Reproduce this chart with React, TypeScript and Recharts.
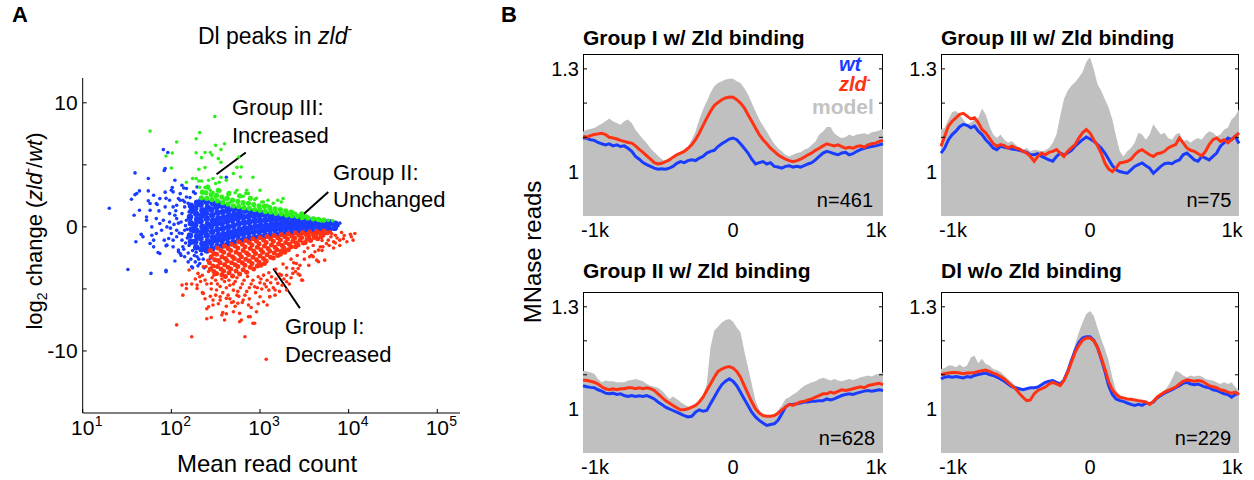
import React from 'react';
import { ScatterChart, Scatter, XAxis, YAxis, ReferenceLine, ComposedChart, Area, Line } from 'recharts';

const FONT = '"Liberation Sans", Arial, Helvetica, sans-serif';
const BLUE = '#1a3cff';
const RED = '#ff3214';
const GREEN = '#2cf01a';
const GRAY = '#c0c0c0';

// ---- Panel A: [log10(mean read count), log2 change] ----
const blueSparse = [
  [1.30, 1.50], [1.51, -3.43], [1.59, 4.35], [1.55, 2.23], [1.59, 2.6], [1.64, 2.9], [1.58, 0.94], [1.60, -1.2],
  [1.68, -0.8], [1.72, 0.8], [1.74, 3.9], [1.77, -3.75], [1.78, -0.67], [1.80, -1.61], [1.76, 1.88], [1.80, 2.55],
  [1.86, 1.29], [1.83, 0.67], [1.91, 6.23], [1.96, 6.0], [1.93, 4.7], [1.94, -3.5], [1.89, -0.27], [1.92, -1.07],
  [1.87, -2.14], [1.95, -1.47], [1.98, 2.15], [2.02, 2.82], [2.04, 0.94], [1.98, 0.4], [2.06, -0.27], [2.12, -1.07],
  [2.10, -2.14], [2.15, -2.41], [2.13, -1.6], [2.19, -2.82], [2.23, -3.22], [2.29, -2.41], [2.32, -2.95], [2.34, -2.2],
  [2.44, -2.54], [2.10, 2.68], [2.13, 2.15], [2.17, 3.09], [2.08, 2.28], [2.15, 1.61], [2.04, 3.76], [2.12, 3.35],
  [1.72, 0.53], [1.78, 0.0], [1.83, -0.53], [1.80, -1.07], [1.95, 0.0], [2.0, -0.53], [2.02, -1.07], [2.06, -0.8],
  [1.97, -0.94], [2.02, -1.61], [2.08, -1.87], [2.12, -0.53], [2.15, -0.27], [1.91, 0.54], [1.87, 0.27], [1.98, 1.07],
  [2.02, 1.61], [2.06, 0.67], [2.12, 1.07], [2.17, 0.54], [2.0, 2.95], [1.94, 2.3], [1.93, 1.61], [1.83, 1.88],
  [1.87, 2.28], [2.25, 2.82], [2.17, 2.41], [2.29, 3.22], [2.04, -2.75], [2.11, -2.3], [2.08, -2.0], [2.24, -3.3],
  [2.27, -2.82], [2.30, -3.14], [2.37, -3.3], [1.66, -0.6], [1.76, -1.34], [1.85, -2.06], [1.94, -1.53], [1.94, -3.62],
  [1.74, 2.1], [1.64, 1.34], [1.76, 1.34], [1.84, 1.8], [1.93, 2.8], [2.01, 3.17], [2.14, 3.14], [2.06, 1.75],
  [2.10, 2.15], [2.15, 2.0], [2.21, 2.36], [2.27, 2.69], [1.74, 2.9], [1.61, 2.69], [2.62, 4.0], [3.47, 0.27],
  [3.58, 0.13], [3.68, 0.27], [3.73, 0.0], [3.79, 0.13], [3.83, 0.2], [3.88, 0.1], [3.90, 0.3], [3.86, -0.1],
  [2.18, -0.9], [2.20, -1.5], [2.16, 0.1], [2.20, 1.2], [2.19, 1.9], [2.24, -1.9], [2.21, 0.6], [2.25, -0.4],
  [2.14, -1.8], [2.08, 0.3], [2.09, -0.5], [2.05, 1.3], [2.03, 0.2], [1.99, -0.1], [2.11, 0.4], [2.18, -0.2],
  [2.26, -2.3], [2.31, -2.6], [2.22, -2.6], [1.92, 4.55], [2.16, -1.3], [2.19, -2.1], [2.28, -2.05], [2.36, -2.6],
];

const blueCore = [
  [2.22, -1.2], [2.21, -0.7], [2.23, -0.2], [2.22, 0.3], [2.21, 0.8], [2.23, 1.3], [2.22, 1.7],
  [2.28, -1.65], [2.27, -1.2], [2.29, -0.75], [2.28, -0.3], [2.27, 0.15], [2.29, 0.6], [2.28, 1.05], [2.27, 1.5], [2.29, 1.95],
  [2.34, -1.8], [2.35, -1.35], [2.33, -0.9], [2.34, -0.45], [2.35, 0.0], [2.33, 0.45], [2.34, 0.9], [2.35, 1.35], [2.33, 1.8], [2.34, 2.15],
  [2.40, -1.9], [2.39, -1.6], [2.41, -1.15], [2.40, -0.7], [2.39, -0.25], [2.41, 0.2], [2.40, 0.65], [2.39, 1.1], [2.41, 1.55], [2.40, 2.0],
  [2.46, -1.75], [2.45, -1.3], [2.47, -0.85], [2.46, -0.4], [2.45, 0.05], [2.47, 0.5], [2.46, 0.95], [2.45, 1.4], [2.47, 1.9],
  [2.52, -1.55], [2.51, -1.1], [2.53, -0.65], [2.52, -0.2], [2.51, 0.25], [2.53, 0.7], [2.52, 1.15], [2.51, 1.6], [2.53, 1.9],
  [2.58, -1.5], [2.57, -1.05], [2.59, -0.6], [2.58, -0.15], [2.57, 0.3], [2.59, 0.75], [2.58, 1.2], [2.57, 1.7],
  [2.64, -1.35], [2.63, -0.9], [2.65, -0.45], [2.64, 0.0], [2.63, 0.45], [2.65, 0.9], [2.64, 1.3], [2.63, 1.62],
  [2.70, -1.25], [2.69, -0.8], [2.71, -0.35], [2.70, 0.1], [2.69, 0.55], [2.71, 1.0], [2.70, 1.45],
  [2.76, -1.1], [2.75, -0.65], [2.77, -0.2], [2.76, 0.25], [2.75, 0.7], [2.77, 1.1], [2.76, 1.42],
  [2.82, -1.0], [2.81, -0.55], [2.83, -0.1], [2.82, 0.35], [2.81, 0.8], [2.83, 1.3],
  [2.88, -0.92], [2.87, -0.48], [2.89, -0.04], [2.88, 0.4], [2.87, 0.84], [2.89, 1.25],
  [2.94, -0.85], [2.93, -0.4], [2.95, 0.05], [2.94, 0.5], [2.93, 0.92], [2.95, 1.18],
  [3.00, -0.78], [2.99, -0.35], [3.01, 0.08], [3.00, 0.5], [2.99, 0.9], [3.01, 1.12],
  [3.06, -0.72], [3.05, -0.3], [3.07, 0.12], [3.06, 0.55], [3.05, 1.0],
  [3.12, -0.66], [3.11, -0.24], [3.13, 0.18], [3.12, 0.6], [3.11, 0.96],
  [3.18, -0.6], [3.17, -0.2], [3.19, 0.2], [3.18, 0.6], [3.17, 0.92],
  [3.24, -0.55], [3.23, -0.15], [3.25, 0.25], [3.24, 0.62], [3.23, 0.86],
  [3.30, -0.5], [3.29, -0.12], [3.31, 0.26], [3.30, 0.6], [3.29, 0.8],
  [3.36, -0.46], [3.35, -0.08], [3.37, 0.3], [3.36, 0.7],
  [3.42, -0.43], [3.41, -0.05], [3.43, 0.32], [3.42, 0.66],
  [3.48, -0.4], [3.47, -0.02], [3.49, 0.34], [3.48, 0.6],
  [3.54, -0.37], [3.53, 0.0], [3.55, 0.35], [3.54, 0.56],
  [3.60, -0.33], [3.59, 0.05], [3.61, 0.42],
  [3.66, -0.3], [3.65, 0.08], [3.67, 0.44],
  [3.72, -0.27], [3.71, 0.1], [3.73, 0.4],
  [3.78, -0.22], [3.77, 0.12], [3.79, 0.35],
  [3.84, -0.08], [3.85, 0.25],
];

const greenSparse = [
  [1.76, 7.72], [2.06, 6.84], [2.01, 5.95], [1.94, 5.71], [2.0, 4.75], [2.28, 7.1], [2.32, 7.6], [2.49, 8.9],
  [2.28, 5.98], [2.38, 6.0], [2.44, 6.0], [2.46, 5.8], [2.5, 6.57], [2.56, 6.23], [2.6, 6.7], [2.34, 5.58],
  [2.53, 5.5], [2.56, 5.2], [2.31, 4.64], [2.38, 4.78], [2.28, 3.9], [2.31, 3.7], [2.34, 3.7], [2.42, 3.76],
  [2.47, 3.9], [2.5, 3.5], [2.54, 3.6], [2.56, 4.0], [2.62, 3.76], [2.32, 3.2], [2.38, 3.17], [2.44, 2.95],
  [2.47, 2.77], [2.5, 2.4], [2.55, 2.9], [2.6, 2.2], [2.64, 2.6], [2.67, 2.0], [2.76, 5.63], [2.79, 4.83],
  [2.78, 4.02], [2.92, 4.0], [2.74, 2.95], [2.85, 2.95], [2.87, 2.69], [2.81, 2.47], [2.94, 2.2], [3.0, 2.95],
  [3.02, 2.0], [3.09, 2.15], [3.2, 2.15], [3.26, 2.28], [3.3, 1.08], [3.37, 0.94], [3.47, 0.67], [3.62, 0.67],
  [2.96, 2.3], [3.04, 2.0], [3.24, 2.0], [3.37, 1.2], [3.46, 0.9], [3.6, 0.7], [3.69, 0.48], [3.77, 0.54],
  [2.17, 3.6], [2.24, 3.9], [2.70, 4.3], [2.74, 4.8], [2.84, 2.7], [2.72, 2.75], [3.12, 1.4], [3.33, 1.1],
  [3.40, 1.1], [3.52, 0.9], [3.82, 0.5], [3.15, 1.9], [3.08, 1.75],
];

const greenCore = [
  [2.34, 2.35], [2.35, 2.8], [2.40, 2.3], [2.39, 2.75], [2.41, 3.2], [2.46, 2.2], [2.45, 2.6], [2.52, 2.1],
  [2.51, 2.55], [2.53, 2.95], [2.58, 1.95], [2.57, 2.4], [2.64, 1.85], [2.63, 2.3], [2.65, 2.7], [2.70, 1.7],
  [2.69, 2.15], [2.76, 1.65], [2.75, 2.05], [2.77, 2.5], [2.82, 1.55], [2.81, 1.95], [2.88, 1.5], [2.87, 1.9],
  [2.89, 2.3], [2.94, 1.4], [2.93, 1.8], [3.00, 1.35], [2.99, 1.7], [3.06, 1.25], [3.05, 1.65], [3.12, 1.2],
  [3.11, 1.55], [3.18, 1.1], [3.17, 1.45], [3.24, 1.05], [3.23, 1.4], [3.30, 0.95], [3.29, 1.3], [3.36, 0.9],
  [3.35, 1.2], [3.42, 0.85], [3.48, 0.78], [3.47, 1.05], [3.54, 0.72], [3.60, 0.65], [3.66, 0.6], [3.72, 0.55],
];

const redCore = [
  [2.44, -1.9], [2.45, -2.4], [2.43, -2.9], [2.44, -3.4],
  [2.48, -2.15], [2.49, -2.65], [2.47, -3.15], [2.48, -3.6],
  [2.52, -1.7], [2.51, -2.2], [2.53, -2.7], [2.52, -3.2], [2.51, -3.75],
  [2.56, -1.9], [2.57, -2.4], [2.55, -2.9], [2.56, -3.4], [2.57, -3.85],
  [2.60, -1.55], [2.59, -2.05], [2.61, -2.55], [2.60, -3.05], [2.59, -3.55], [2.61, -4.0],
  [2.64, -1.75], [2.65, -2.25], [2.63, -2.75], [2.64, -3.25], [2.65, -3.7],
  [2.68, -1.4], [2.67, -1.9], [2.69, -2.4], [2.68, -2.9], [2.67, -3.4], [2.69, -3.95],
  [2.72, -1.55], [2.73, -2.05], [2.71, -2.55], [2.72, -3.05], [2.73, -3.55],
  [2.76, -1.2], [2.75, -1.7], [2.77, -2.2], [2.76, -2.7], [2.75, -3.2], [2.77, -3.8],
  [2.80, -1.4], [2.81, -1.9], [2.79, -2.4], [2.80, -2.9], [2.81, -3.45],
  [2.84, -1.1], [2.83, -1.6], [2.85, -2.1], [2.84, -2.6], [2.83, -3.1], [2.85, -3.65],
  [2.88, -1.25], [2.89, -1.75], [2.87, -2.25], [2.88, -2.75], [2.89, -3.25],
  [2.92, -0.95], [2.91, -1.45], [2.93, -1.95], [2.92, -2.45], [2.91, -2.95], [2.93, -3.4],
  [2.96, -1.15], [2.97, -1.65], [2.95, -2.15], [2.96, -2.65], [2.97, -3.15],
  [3.00, -0.85], [2.99, -1.35], [3.01, -1.85], [3.00, -2.35], [2.99, -2.85], [3.01, -3.1],
  [3.04, -1.05], [3.05, -1.55], [3.03, -2.05], [3.04, -2.55], [3.05, -2.95],
  [3.08, -0.78], [3.07, -1.25], [3.09, -1.75], [3.08, -2.25], [3.07, -2.75],
  [3.12, -0.95], [3.13, -1.45], [3.11, -1.95], [3.12, -2.45],
  [3.16, -0.7], [3.15, -1.15], [3.17, -1.65], [3.16, -2.1], [3.15, -2.5],
  [3.20, -0.88], [3.21, -1.35], [3.19, -1.85], [3.20, -2.3],
  [3.24, -0.62], [3.23, -1.05], [3.25, -1.5], [3.24, -1.95], [3.23, -2.2],
  [3.28, -0.8], [3.29, -1.25], [3.27, -1.7], [3.28, -2.05],
  [3.32, -0.56], [3.31, -0.98], [3.33, -1.4], [3.32, -1.85],
  [3.36, -0.75], [3.37, -1.15], [3.35, -1.6],
  [3.40, -0.5], [3.39, -0.9], [3.41, -1.3], [3.40, -1.6],
  [3.44, -0.68], [3.45, -1.08], [3.43, -1.45],
  [3.48, -0.46], [3.47, -0.85], [3.49, -1.3],
  [3.52, -0.62], [3.53, -0.98], [3.51, -1.25],
  [3.56, -0.42], [3.55, -0.78], [3.57, -1.1],
  [3.60, -0.58], [3.61, -0.85],
  [3.64, -0.38], [3.63, -0.7], [3.65, -0.95],
  [3.68, -0.52], [3.69, -0.8],
  [3.72, -0.34], [3.71, -0.65], [3.76, -0.48],
];

const redSparse = [
  [2.06, -7.9], [2.23, -8.85], [2.83, -8.85], [3.07, -10.67], [2.13, -5.5], [2.17, -4.6], [2.23, -4.6], [2.2, -3.48],
  [2.29, -4.96], [2.35, -5.3], [2.40, -6.6], [2.45, -7.3], [2.40, -7.4], [2.47, -5.9], [2.58, -6.9], [2.62, -7.0],
  [2.57, -7.1], [3.79, -0.4], [3.85, -0.67], [3.9, -1.07], [4.03, -0.8], [4.05, -1.07], [4.07, -0.53], [4.02, -0.6],
  [3.95, -0.7], [3.87, -0.9], [3.75, -1.34], [3.71, -1.61], [3.83, -1.2], [3.83, -1.7], [3.66, -1.87], [3.73, -2.68],
  [3.66, -2.81], [3.58, -2.28], [3.41, -2.95], [3.45, -3.89], [3.37, -3.35], [3.43, -3.35], [3.48, -4.3], [3.43, -3.8],
  [3.17, -5.5], [3.11, -5.63], [3.0, -5.63], [2.96, -6.84], [2.92, -7.77], [2.79, -7.5], [2.89, -7.24], [2.75, -6.16],
  [2.87, -6.3], [2.81, -5.9], [2.74, -5.5], [2.98, -4.02], [3.04, -3.89], [3.13, -4.02], [2.94, -4.83], [3.07, -4.83],
  [3.2, -4.55], [3.24, -3.89], [2.36, -5.36], [2.42, -6.44], [2.47, -6.3], [2.55, -5.63], [2.62, -5.76], [2.70, -6.03],
  [2.77, -6.97], [2.87, -7.24], [2.94, -7.77], [2.70, -6.84], [2.60, -7.5], [2.77, -7.64], [3.04, -6.03], [3.11, -5.63],
  [3.17, -5.09], [3.30, -5.09], [3.37, -3.75], [3.47, -4.29], [3.30, -4.42], [3.56, -2.41], [3.64, -2.68], [3.68, -1.61],
  [3.77, -1.07], [3.73, -0.53], [2.12, -4.69], [2.17, -4.96], [2.29, -4.69], [2.30, -3.75], [2.36, -3.22], [2.32, -4.02],
  [2.38, -4.29], [2.45, -4.56], [2.51, -5.09], [2.5, -4.3], [2.55, -4.8], [2.6, -4.4], [2.66, -4.7], [2.7, -5.1],
  [2.72, -4.4], [2.78, -4.9], [2.82, -4.3], [2.85, -5.2], [2.9, -4.6], [2.95, -5.3], [3.0, -4.5], [3.02, -5.0],
  [3.08, -4.3], [3.15, -4.9], [3.22, -5.2], [3.27, -4.2], [3.33, -4.6], [2.64, -5.5], [2.76, -5.6], [2.88, -5.8],
  [2.58, -5.3], [2.68, -6.1], [2.53, -6.2], [2.45, -5.0], [2.4, -4.6], [2.48, -3.9], [2.35, -3.9], [2.42, -3.6],
  [3.1, -3.7], [3.18, -3.4], [3.26, -3.0], [3.35, -2.6], [3.42, -2.3], [3.5, -2.0], [3.54, -1.7], [3.6, -1.5],
  [3.7, -1.1], [3.8, -0.8], [3.3, -3.3], [3.38, -2.9], [3.5, -2.6], [3.55, -3.1], [3.62, -2.0], [3.92, -0.45],
  [3.98, -1.2], [3.9, -1.5], [2.46, -4.1], [2.52, -4.6], [2.57, -4.2], [2.62, -4.9], [2.65, -4.3], [2.7, -4.6],
  [2.74, -4.1], [2.75, -5.2], [2.8, -4.6], [2.83, -5.5], [2.86, -4.0], [2.88, -4.9], [2.92, -4.3], [2.97, -4.9],
  [3.01, -4.2], [3.05, -4.6], [3.1, -5.1], [3.12, -4.5], [3.18, -4.2], [3.22, -3.8], [3.25, -4.7], [3.3, -3.9],
  [3.35, -4.1], [3.4, -3.6], [2.55, -5.9], [2.66, -5.8], [2.72, -6.4], [2.8, -6.1], [2.9, -6.5], [2.98, -6.2],
  [3.08, -6.3], [2.62, -6.4], [2.5, -5.5], [2.44, -5.6], [2.38, -5.8], [2.33, -4.4], [2.27, -4.2], [3.45, -3.1],
  [3.6, -2.4], [3.7, -1.9], [3.78, -1.5], [3.85, -1.3], [2.39, -3.2], [2.41, -2.7], [3.94, -0.95], [3.81, -0.55],
];

const logTicks = [1, 2, 3, 4, 5];
const changeTicks = [-10, -5, 0, 5, 10];

// ---- Panel B: MNase profiles, position in bp ----
const positions = [
  -1000, -975, -950, -925, -900, -875, -850, -825, -800, -775,
  -750, -725, -700, -675, -650, -625, -600, -575, -550, -525,
  -500, -475, -450, -425, -400, -375, -350, -325, -300, -275,
  -250, -225, -200, -175, -150, -125, -100, -75, -50, -25,
  0,
  25, 50, 75, 100, 125, 150, 175, 200, 225, 250,
  275, 300, 325, 350, 375, 400, 425, 450, 475, 500,
  525, 550, 575, 600, 625, 650, 675, 700, 725, 750,
  775, 800, 825, 850, 875, 900, 925, 950, 975, 1000,
];

const g1Model = [
  1.117, 1.122, 1.124, 1.127, 1.134, 1.14, 1.147, 1.155, 1.147, 1.142,
  1.137, 1.147, 1.152, 1.142, 1.122, 1.108, 1.095, 1.083, 1.068, 1.056,
  1.046, 1.036, 1.029, 1.034, 1.044, 1.049, 1.056, 1.064, 1.073, 1.093,
  1.117, 1.152, 1.181, 1.205, 1.23, 1.249, 1.259, 1.264, 1.269, 1.271,
  1.271,
  1.264, 1.259, 1.244, 1.225, 1.2, 1.176, 1.152, 1.134, 1.117, 1.098,
  1.081, 1.068, 1.059, 1.049, 1.044, 1.049, 1.054, 1.056, 1.064, 1.068,
  1.078, 1.088, 1.108, 1.117, 1.13, 1.13, 1.112, 1.103, 1.098, 1.101,
  1.108, 1.103, 1.108, 1.11, 1.112, 1.108, 1.115, 1.117, 1.12, 1.124,
];
const g1Zld = [
  1.103, 1.1, 1.105, 1.108, 1.11, 1.112, 1.108, 1.1, 1.098, 1.095,
  1.091, 1.088, 1.085, 1.083, 1.075, 1.065, 1.056, 1.046, 1.036, 1.026,
  1.022, 1.024, 1.029, 1.034, 1.042, 1.049, 1.054, 1.059, 1.068, 1.078,
  1.093, 1.112, 1.134, 1.156, 1.176, 1.193, 1.202, 1.21, 1.215, 1.218,
  1.217,
  1.21, 1.2, 1.186, 1.166, 1.147, 1.127, 1.108, 1.093, 1.081, 1.068,
  1.059, 1.049, 1.042, 1.036, 1.032, 1.029, 1.032, 1.036, 1.042, 1.049,
  1.054, 1.062, 1.068, 1.075, 1.081, 1.078, 1.075, 1.078, 1.073, 1.068,
  1.071, 1.068, 1.073, 1.075, 1.071, 1.078, 1.081, 1.083, 1.088, 1.091,
];
const g1Wt = [
  1.098, 1.097, 1.093, 1.091, 1.085, 1.081, 1.078, 1.081, 1.075, 1.078,
  1.073, 1.075, 1.068, 1.059, 1.044, 1.036, 1.026, 1.02, 1.015, 1.01,
  1.007, 1.008, 1.007, 1.01, 1.015, 1.024, 1.029, 1.026, 1.032, 1.034,
  1.032, 1.039, 1.044, 1.054, 1.059, 1.062, 1.073, 1.081, 1.088, 1.095,
  1.098,
  1.093, 1.081, 1.068, 1.054, 1.036, 1.022, 1.026, 1.029, 1.022, 1.026,
  1.015, 1.013, 1.01, 1.015, 1.017, 1.013, 1.015, 1.013, 1.017, 1.022,
  1.026, 1.034, 1.044, 1.054, 1.059, 1.056, 1.052, 1.049, 1.054, 1.056,
  1.049, 1.052, 1.059, 1.064, 1.068, 1.071, 1.073, 1.075, 1.078, 1.081,
];

const g2Model = [
  1.123, 1.128, 1.152, 1.174, 1.177, 1.167, 1.152, 1.138, 1.143, 1.152,
  1.157, 1.184, 1.167, 1.133, 1.108, 1.098, 1.108, 1.093, 1.084, 1.089,
  1.079, 1.069, 1.064, 1.069, 1.059, 1.064, 1.062, 1.059, 1.062, 1.069,
  1.084, 1.108, 1.162, 1.211, 1.236, 1.251, 1.261, 1.275, 1.29, 1.32,
  1.334,
  1.3, 1.256, 1.236, 1.211, 1.187, 1.152, 1.103, 1.059, 1.044, 1.059,
  1.069, 1.084, 1.113, 1.108, 1.093, 1.108, 1.138, 1.123, 1.108, 1.113,
  1.098, 1.093, 1.108, 1.113, 1.088, 1.093, 1.084, 1.093, 1.098, 1.093,
  1.108, 1.118, 1.113, 1.103, 1.108, 1.123, 1.128, 1.152, 1.162, 1.182,
];
const g2Zld = [
  1.074, 1.103, 1.133, 1.147, 1.157, 1.167, 1.17, 1.162, 1.154, 1.157,
  1.143, 1.123, 1.113, 1.098, 1.082, 1.074, 1.079, 1.076, 1.069, 1.074,
  1.069, 1.066, 1.059, 1.054, 1.044, 1.03, 1.044, 1.054, 1.049, 1.056,
  1.059, 1.064, 1.054, 1.044, 1.059, 1.069, 1.079, 1.098, 1.113, 1.123,
  1.113,
  1.093, 1.076, 1.054, 1.025, 1.007, 1.0, 1.01, 1.025, 1.027, 1.03,
  1.036, 1.049, 1.059, 1.064, 1.056, 1.049, 1.044, 1.052, 1.054, 1.059,
  1.069, 1.074, 1.079, 1.098, 1.084, 1.069, 1.062, 1.059, 1.052, 1.046,
  1.059, 1.079, 1.093, 1.098, 1.088, 1.093, 1.084, 1.093, 1.103, 1.113,
];
const g2Wt = [
  1.054, 1.069, 1.093, 1.108, 1.118, 1.131, 1.138, 1.135, 1.128, 1.133,
  1.118, 1.108, 1.093, 1.082, 1.069, 1.064, 1.074, 1.071, 1.069, 1.066,
  1.064, 1.062, 1.059, 1.056, 1.049, 1.049, 1.052, 1.044, 1.039, 1.034,
  1.03, 1.044, 1.054, 1.049, 1.054, 1.062, 1.074, 1.084, 1.093, 1.101,
  1.095,
  1.089, 1.079, 1.069, 1.054, 1.036, 1.017, 1.005, 1.0, 0.997, 0.995,
  1.005, 1.015, 1.02, 1.025, 1.017, 1.01, 0.995, 1.005, 1.015, 1.023,
  1.025, 1.023, 1.03, 1.034, 1.049, 1.054, 1.044, 1.034, 1.03, 1.044,
  1.039, 1.034, 1.044, 1.054, 1.074, 1.084, 1.098, 1.093, 1.103, 1.082,
];

const g3Model = [
  1.112, 1.11, 1.107, 1.103, 1.088, 1.078, 1.083, 1.081, 1.081, 1.078,
  1.078, 1.078, 1.083, 1.085, 1.088, 1.085, 1.081, 1.073, 1.068, 1.065,
  1.062, 1.054, 1.042, 1.029, 1.036, 1.029, 1.02, 1.013, 1.007, 1.005,
  1.01, 1.02, 1.034, 1.073, 1.181, 1.23, 1.241, 1.254, 1.261, 1.264,
  1.257,
  1.239, 1.225, 1.171, 1.122, 1.073, 1.024, 0.997, 0.985, 0.98, 0.978,
  0.98, 0.995, 1.01, 1.029, 1.034, 1.042, 1.049, 1.059, 1.068, 1.073,
  1.078, 1.081, 1.088, 1.091, 1.088, 1.083, 1.088, 1.083, 1.081, 1.085,
  1.088, 1.085, 1.088, 1.093, 1.095, 1.098, 1.095, 1.101, 1.103, 1.107,
];
const g3Zld = [
  1.085, 1.083, 1.081, 1.078, 1.073, 1.065, 1.059, 1.056, 1.059, 1.056,
  1.059, 1.059, 1.062, 1.062, 1.059, 1.062, 1.059, 1.062, 1.059, 1.054,
  1.044, 1.034, 1.024, 1.017, 1.01, 1.003, 0.997, 0.997, 1.0, 1.005,
  1.01, 1.02, 1.034, 1.054, 1.073, 1.093, 1.11, 1.117, 1.122, 1.124,
  1.12,
  1.11, 1.093, 1.068, 1.044, 1.02, 1.0, 0.987, 0.98, 0.978, 0.978,
  0.98, 0.987, 0.997, 1.005, 1.013, 1.01, 1.015, 1.02, 1.022, 1.026,
  1.029, 1.034, 1.039, 1.044, 1.044, 1.049, 1.046, 1.051, 1.056, 1.054,
  1.056, 1.059, 1.062, 1.065, 1.062, 1.068, 1.071, 1.073, 1.075, 1.071,
];
const g3Wt = [
  1.068, 1.065, 1.063, 1.062, 1.056, 1.052, 1.046, 1.044, 1.046, 1.042,
  1.044, 1.039, 1.036, 1.039, 1.036, 1.038, 1.036, 1.039, 1.034, 1.029,
  1.02, 1.013, 1.005, 1.0, 0.995, 0.99, 0.985, 0.98, 0.976, 0.978,
  0.99, 0.997, 0.993, 0.995, 1.015, 1.034, 1.054, 1.071, 1.081, 1.088,
  1.081,
  1.068, 1.049, 1.029, 1.01, 0.99, 0.976, 0.966, 0.958, 0.951, 0.954,
  0.956, 0.966, 0.985, 1.005, 1.013, 1.013, 1.015, 1.017, 1.02, 1.02,
  1.022, 1.022, 1.024, 1.024, 1.029, 1.026, 1.029, 1.034, 1.039, 1.042,
  1.044, 1.042, 1.046, 1.049, 1.052, 1.054, 1.052, 1.054, 1.056, 1.054,
];

const g4Model = [
  1.117, 1.12, 1.127, 1.127, 1.122, 1.13, 1.122, 1.127, 1.151, 1.156,
  1.134, 1.147, 1.132, 1.127, 1.117, 1.114, 1.108, 1.098, 1.088, 1.078,
  1.068, 1.062, 1.056, 1.054, 1.059, 1.062, 1.064, 1.068, 1.078, 1.083,
  1.081, 1.078, 1.073, 1.083, 1.112, 1.151, 1.19, 1.225, 1.254, 1.279,
  1.288,
  1.274, 1.239, 1.205, 1.176, 1.142, 1.093, 1.054, 1.042, 1.034, 1.029,
  1.026, 1.024, 1.026, 1.022, 1.02, 1.02, 1.02, 1.026, 1.044, 1.054,
  1.068, 1.088, 1.112, 1.107, 1.098, 1.093, 1.098, 1.095, 1.098, 1.095,
  1.088, 1.085, 1.083, 1.078, 1.073, 1.078, 1.073, 1.078, 1.064, 1.054,
];
const g4Zld = [
  1.101, 1.103, 1.105, 1.107, 1.107, 1.105, 1.103, 1.105, 1.105, 1.107,
  1.11, 1.112, 1.114, 1.11, 1.105, 1.101, 1.095, 1.088, 1.078, 1.068,
  1.059, 1.046, 1.034, 1.024, 1.026, 1.044, 1.054, 1.059, 1.064, 1.073,
  1.078, 1.073, 1.068, 1.083, 1.107, 1.137, 1.166, 1.186, 1.202, 1.208,
  1.208,
  1.2, 1.181, 1.151, 1.117, 1.081, 1.056, 1.042, 1.034, 1.032, 1.029,
  1.028, 1.026, 1.024, 1.022, 1.02, 1.013, 1.022, 1.034, 1.042, 1.049,
  1.054, 1.059, 1.064, 1.073, 1.081, 1.085, 1.083, 1.081, 1.083, 1.081,
  1.075, 1.068, 1.065, 1.062, 1.056, 1.054, 1.049, 1.046, 1.049, 1.042,
];
const g4Wt = [
  1.088, 1.093, 1.095, 1.093, 1.095, 1.093, 1.091, 1.095, 1.093, 1.098,
  1.101, 1.103, 1.105, 1.101, 1.098, 1.093, 1.088, 1.081, 1.073, 1.065,
  1.062, 1.059, 1.056, 1.059, 1.062, 1.062, 1.064, 1.071, 1.078, 1.081,
  1.083, 1.078, 1.073, 1.085, 1.11, 1.142, 1.171, 1.195, 1.208, 1.212,
  1.212,
  1.202, 1.181, 1.147, 1.11, 1.068, 1.042, 1.029, 1.024, 1.022, 1.017,
  1.013, 1.01, 1.013, 1.01, 1.017, 1.015, 1.02, 1.032, 1.039, 1.046,
  1.051, 1.056, 1.062, 1.068, 1.075, 1.078, 1.073, 1.071, 1.073, 1.068,
  1.064, 1.062, 1.056, 1.054, 1.049, 1.044, 1.042, 1.034, 1.042, 1.046,
];

const posTicks = [-1000, 0, 1000];
const readTicks = [1, 1.1, 1.2, 1.3];

const toPts = (arr: number[][]) => arr.map(([x, y]) => ({ x, y }));
const dot = (r: number, fill: string) => (p: any) => <circle cx={p.cx} cy={p.cy} r={r} fill={fill} />;

const LogTick = (p: any) => {
  const { x, y, payload } = p;
  return (
    <g>
      <line x1={x} y1={y} x2={x} y2={y - 4} stroke="#000" />
      <text x={x} y={y + 22} textAnchor="middle" fontSize={21} fontFamily={FONT} fill="#000">10</text>
      <text x={x + 12} y={y + 13} fontSize={14} fontFamily={FONT} fill="#000">{payload.value}</text>
    </g>
  );
};

const ChangeTick = (p: any) => {
  const { x, y, payload } = p;
  const v = payload.value;
  return (
    <g>
      <line x1={x} y1={y} x2={x + 4} y2={y} stroke="#000" />
      {v % 10 === 0 && (
        <text x={x - 5} y={y + 7.5} textAnchor="end" fontSize={21} fontFamily={FONT} fill="#000">{v}</text>
      )}
    </g>
  );
};

const KTick = (p: any) => {
  const v = p.payload.value;
  const label = v === 0 ? '0' : v < 0 ? '-1k' : '1k';
  const dx = v < 0 ? 12 : v > 0 ? -7 : 0;
  return (
    <text x={p.x + dx} y={p.y + 21} textAnchor="middle" fontSize={20} fontFamily={FONT} fill="#000">{label}</text>
  );
};

const mkReadTick = (w: number) => (p: any) => {
  const { x, y, payload } = p;
  const v = payload.value;
  const label = v === 1 ? '1' : v === 1.3 ? '1.3' : '';
  return (
    <g>
      {v > 1.05 && <line x1={x} y1={y} x2={x + 4} y2={y} stroke="#000" />}
      {v > 1.05 && <line x1={x + w} y1={y} x2={x + w - 4} y2={y} stroke="#000" />}
      {label && (
        <text x={x - 4} y={y + 7} textAnchor="end" fontSize={20} fontFamily={FONT} fill="#000">{label}</text>
      )}
    </g>
  );
};

const ProfilePanel = ({ left, top, plotW, plotH, model, wt, zld }: any) => {
  const data = positions.map((pos, i) => ({ pos, model: model[i], wt: wt[i], zld: zld[i] }));
  const mTop = 33.5;
  return (
    <>
      <div
        style={{
          position: 'absolute', left: left + 40, top: top + mTop, width: plotW, height: plotH,
          border: '1px solid #000', boxSizing: 'border-box',
        }}
      />
      <div style={{ position: 'absolute', left, top }}>
        <ComposedChart
          width={345}
          height={mTop + plotH + 25 + 10}
          data={data}
          margin={{ top: mTop, right: 345 - 40 - plotW, bottom: 10, left: 10 }}
        >
          <XAxis
            type="number" dataKey="pos" domain={[-1000, 1000]} ticks={posTicks} interval={0}
            axisLine={false} tickLine={false} tickSize={0} tickMargin={0} height={25} tick={KTick}
          />
          <YAxis
            type="number" domain={[0.87, 1.345]} ticks={readTicks} interval={0} allowDataOverflow
            axisLine={false} tickLine={false} tickSize={0} tickMargin={0} width={30} tick={mkReadTick(plotW)}
          />
          <Area
            type="linear" dataKey="model" baseValue={0.87} stroke="none" fill={GRAY} fillOpacity={1}
            isAnimationActive={false}
          />
          <Line type="linear" dataKey="wt" stroke={BLUE} strokeWidth={3} dot={false} isAnimationActive={false} />
          <Line type="linear" dataKey="zld" stroke={RED} strokeWidth={3} dot={false} isAnimationActive={false} />
        </ComposedChart>
      </div>
    </>
  );
};

const txt = { fontFamily: FONT, fill: '#000' };

export default function App() {
  return (
    <div
      style={{
        position: 'absolute', left: 0, top: 0, width: 1254, height: 480, background: '#fff',
        overflow: 'hidden', fontFamily: FONT,
      }}
    >
      <div style={{ position: 'absolute', left: 0, top: 0 }}>
        <ScatterChart width={480} height={480} margin={{ top: 78, right: 20, bottom: 37, left: 42.7 }}>
          <XAxis
            type="number" dataKey="x" domain={[1, 5.256]} ticks={logTicks} interval={0} allowDataOverflow
            axisLine={{ stroke: '#000' }} tickLine={false} tickSize={0} tickMargin={0} height={30} tick={LogTick}
          />
          <YAxis
            type="number" dataKey="y" domain={[-15, 12]} ticks={changeTicks} interval={0} allowDataOverflow
            axisLine={{ stroke: '#000' }} tickLine={false} tickSize={0} tickMargin={0} width={40} tick={ChangeTick}
          />
          <Scatter data={toPts(blueSparse)} shape={dot(1.8, BLUE)} isAnimationActive={false} />
          <Scatter data={toPts(blueCore)} shape={dot(3.2, BLUE)} isAnimationActive={false} />
          <Scatter data={toPts(greenSparse)} shape={dot(1.8, GREEN)} isAnimationActive={false} />
          <Scatter data={toPts(greenCore)} shape={dot(2.6, GREEN)} isAnimationActive={false} />
          <Scatter data={toPts(redCore)} shape={dot(2.5, RED)} isAnimationActive={false} />
          <Scatter data={toPts(redSparse)} shape={dot(1.8, RED)} isAnimationActive={false} />
          <ReferenceLine segment={[{ x: 2.51, y: 4.24 }, { x: 2.84, y: 5.99 }]} stroke="#000" strokeWidth={2} />
          <ReferenceLine segment={[{ x: 3.34, y: 0.06 }, { x: 3.77, y: 2.82 }]} stroke="#000" strokeWidth={2} />
          <ReferenceLine segment={[{ x: 3.15, y: -3.35 }, { x: 3.45, y: -6.56 }]} stroke="#000" strokeWidth={2} />
        </ScatterChart>
      </div>

      <ProfilePanel left={543} top={20} plotW={300} plotH={162.5} model={g1Model} wt={g1Wt} zld={g1Zld} />
      <ProfilePanel left={901} top={20} plotW={298} plotH={162.5} model={g2Model} wt={g2Wt} zld={g2Zld} />
      <ProfilePanel left={543} top={258} plotW={300} plotH={161.5} model={g3Model} wt={g3Wt} zld={g3Zld} />
      <ProfilePanel left={901} top={258} plotW={298} plotH={161.5} model={g4Model} wt={g4Wt} zld={g4Zld} />

      <svg width={1254} height={480} style={{ position: 'absolute', left: 0, top: 0, pointerEvents: 'none' }}>
        <text x={12} y={22} fontSize={22} fontWeight="bold" {...txt}>A</text>
        <text x={501} y={22} fontSize={22} fontWeight="bold" {...txt}>B</text>

        <text x={275} y={44} fontSize={23} textAnchor="middle" {...txt}>
          Dl peaks in <tspan fontStyle="italic">zld</tspan><tspan fontSize={14} dy={-10}>-</tspan>
        </text>
        <text transform="translate(42,231) rotate(-90)" fontSize={22} textAnchor="middle" {...txt}>
          log<tspan fontSize={14} dy={5}>2</tspan><tspan dy={-5}> change (</tspan>
          <tspan fontStyle="italic">zld</tspan><tspan fontSize={14} dy={-9}>-</tspan>
          <tspan dy={9}>/</tspan><tspan fontStyle="italic">wt</tspan>)
        </text>
        <text x={267} y={472} fontSize={24} textAnchor="middle" {...txt}>Mean read count</text>

        <text x={232} y={115} fontSize={22} {...txt}>Group III:</text>
        <text x={232} y={143} fontSize={22} {...txt}>Increased</text>
        <text x={333} y={180} fontSize={22} {...txt}>Group II:</text>
        <text x={333} y={207} fontSize={22} {...txt}>Unchanged</text>
        <text x={285} y={334} fontSize={22} {...txt}>Group I:</text>
        <text x={285} y={362} fontSize={22} {...txt}>Decreased</text>

        <text transform="translate(541,252) rotate(-90)" fontSize={24} textAnchor="middle" {...txt}>MNase reads</text>

        <text x={583} y={45} fontSize={21} fontWeight="bold" {...txt}>Group I w/ Zld binding</text>
        <text x={941} y={45} fontSize={21} fontWeight="bold" {...txt}>Group III w/ Zld binding</text>
        <text x={583} y={278} fontSize={21} fontWeight="bold" {...txt}>Group II w/ Zld binding</text>
        <text x={941} y={278} fontSize={21} fontWeight="bold" {...txt}>Dl w/o Zld binding</text>

        <text x={839} y={71} fontSize={20} fontWeight="bold" fontStyle="italic" fontFamily={FONT} fill={BLUE}>wt</text>
        <text x={839} y={91} fontSize={20} fontWeight="bold" fontStyle="italic" fontFamily={FONT} fill={RED}>
          zld<tspan fontSize={12} dy={-7}>-</tspan>
        </text>
        <text x={812} y={114} fontSize={21} fontWeight="bold" fontFamily={FONT} fill="#c3c3c3">model</text>

        <text x={873} y={206.5} fontSize={20} textAnchor="end" {...txt}>n=461</text>
        <text x={1231.5} y={206.5} fontSize={20} textAnchor="end" {...txt}>n=75</text>
        <text x={875} y={445} fontSize={20} textAnchor="end" {...txt}>n=628</text>
        <text x={1231} y={445} fontSize={20} textAnchor="end" {...txt}>n=229</text>
      </svg>
    </div>
  );
}
